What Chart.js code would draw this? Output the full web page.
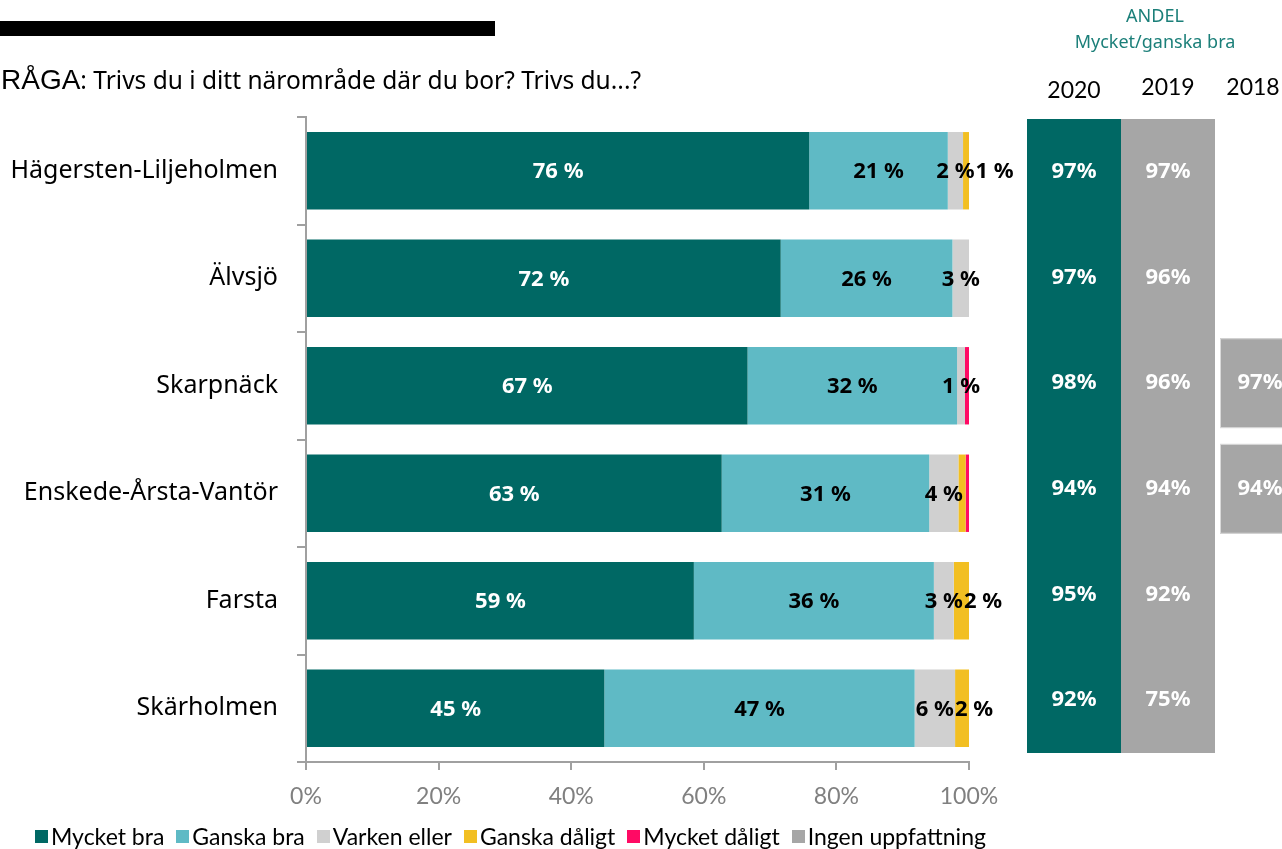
<!DOCTYPE html>
<html>
<head>
<meta charset="utf-8">
<script src="https://cdn.jsdelivr.net/npm/chart.js@4/dist/chart.umd.min.js"></script>
<style>
    body { margin: 0; background: #fff; }
    #wrap { position: relative; width: 1282px; height: 849px; overflow: hidden; }
    #chart { position: absolute; left: 0; top: 0; }
    #bar { position: absolute; left: 0; top: 21px; width: 495px; height: 15px; background: #000; }
    #title { position: absolute; left: 1px; top: 63px; font-family: "Noto Sans", sans-serif; font-size: 24.5px; color: #000; white-space: nowrap; }
    #title .q { font-family: "Liberation Sans", Arial, sans-serif; font-size: 28px; }
    #legend { position: absolute; left: 35px; top: 822px; display: flex; font-family: Lato, sans-serif; font-size: 23px; color: #000; white-space: nowrap; }
    #legend span.item { display: flex; align-items: center; margin-right: 12px; }
    #legend span.box { width: 13px; height: 13px; margin-right: 3px; display: inline-block; }
</style>
</head>
<body>
<div id="wrap">
    <canvas id="chart" width="1282" height="849"></canvas>
    <div id="bar"></div>
    <div id="title"><span class="q">RÅGA</span>: Trivs du i ditt närområde där du bor? Trivs du...?</div>
    <div id="legend"></div>
</div>
<script>
document.addEventListener("DOMContentLoaded", () => {
    const categories = ["Hägersten-Liljeholmen", "Älvsjö", "Skarpnäck", "Enskede-Årsta-Vantör", "Farsta", "Skärholmen"];
    const seriesNames = ["Mycket bra", "Ganska bra", "Varken eller", "Ganska dåligt", "Mycket dåligt", "Ingen uppfattning"];
    const seriesColors = ["#006864", "#5FBAC5", "#D0D0D0", "#F2BF22", "#FF0A64", "#A6A6A6"];

    const mycketBra = [75.9, 71.6, 66.6, 62.7, 58.5, 45.0];
    const ganskaBra = [20.9, 25.9, 31.6, 31.3, 36.2, 46.8];
    const varkenEller = [2.3, 2.5, 1.2, 4.4, 3.0, 6.1];
    const ganskaDaligt = [0.9, 0, 0, 1.1, 2.3, 2.1];
    const mycketDaligt = [0, 0, 0.6, 0.5, 0, 0];
    const ingenUppfattning = [0, 0, 0, 0, 0, 0];

    const xTicks = [0, 20, 40, 60, 80, 100];

    // share Mycket/ganska bra per year (null = no value)
    const years = ["2020", "2019", "2018"];
    const andel2020 = [97, 97, 98, 94, 95, 92];
    const andel2019 = [97, 96, 96, 94, 92, 75];
    const andel2018 = [null, null, 97, 94, null, null];

    // labels that are not printed in the bars
    const hiddenLabels = [["Enskede-Årsta-Vantör", "Ganska dåligt"]];
    const unlabelledSeries = ["Mycket dåligt", "Ingen uppfattning"];

    const seriesValues = [mycketBra, ganskaBra, varkenEller, ganskaDaligt, mycketDaligt, ingenUppfattning];

    // legend
    const legend = document.getElementById("legend");
    seriesNames.forEach((name, i) => {
        const item = document.createElement("span");
        item.className = "item";
        item.innerHTML = '<span class="box" style="background:' + seriesColors[i] + '"></span>' + name;
        legend.appendChild(item);
    });

    // bar value labels, pushed right when they would overlap
    const barLabels = {
        id: "barLabels",
        afterDatasetsDraw(chart) {
            const ctx = chart.ctx;
            ctx.save();
            ctx.font = "bold 22px 'Noto Sans'";
            ctx.textBaseline = "middle";
            ctx.textAlign = "left";
            categories.forEach((cat, row) => {
                let prevRight = -Infinity;
                chart.data.datasets.forEach((ds, di) => {
                    const v = ds.data[row];
                    if (!v) return;
                    if (unlabelledSeries.includes(ds.label)) return;
                    if (hiddenLabels.some(h => h[0] === cat && h[1] === ds.label)) return;
                    const el = chart.getDatasetMeta(di).data[row];
                    const text = Math.round(v) + " %";
                    const w = ctx.measureText(text).width;
                    let left = (el.x + el.base) / 2 - w / 2;
                    if (left < prevRight + 1) left = prevRight + 1;
                    ctx.fillStyle = di === 0 ? "#fff" : "#000";
                    ctx.fillText(text, left, el.y + 1);
                    prevRight = left + w;
                });
            });
            ctx.restore();
        }
    };

    // right hand table with share per year
    const andelPanel = {
        id: "andelPanel",
        afterDraw(chart) {
            const ctx = chart.ctx;
            const y = chart.scales.y;
            const top = y.top + 2;
            const bottom = y.bottom - 9;
            const rowH = (bottom - top) / categories.length;
            const cols = [
                { x: 1027, w: 94, color: "#006864", values: andel2020, full: true, head: 91 },
                { x: 1121, w: 94, color: "#A6A6A6", values: andel2019, full: true, head: 88 },
                { x: 1220, w: 80, color: "#A6A6A6", values: andel2018, full: false, head: 88 }
            ];
            ctx.save();
            ctx.textAlign = "center";
            ctx.textBaseline = "middle";
            ctx.fillStyle = "#1B7F79";
            ctx.font = "18px 'Noto Sans'";
            ctx.fillText("ANDEL", 1155, 17);
            ctx.fillText("Mycket/ganska bra", 1155, 43);
            cols.forEach((c, ci) => {
                ctx.fillStyle = "#000";
                ctx.font = "23px Lato";
                ctx.fillText(years[ci], ci === 2 ? 1253 : c.x + c.w / 2, c.head);
                if (c.full) {
                    ctx.fillStyle = c.color;
                    ctx.fillRect(c.x, top, c.w, bottom - top);
                }
                c.values.forEach((v, r) => {
                    if (v === null) return;
                    const cy = top + rowH * (r + 0.5);
                    if (!c.full) {
                        const h = rowH * 0.85;
                        ctx.fillStyle = c.color;
                        ctx.fillRect(c.x, cy - h / 2, c.w, h);
                        ctx.strokeStyle = "#D9D9D9";
                        ctx.lineWidth = 1;
                        ctx.strokeRect(c.x + 0.5, cy - h / 2 + 0.5, c.w, h - 1);
                    }
                    ctx.fillStyle = "#fff";
                    ctx.font = "bold 22px 'Noto Sans'";
                    ctx.fillText(v + "%", c.x + c.w / 2, cy);
                });
            });
            ctx.restore();
        }
    };

    const ctxMain = document.getElementById("chart").getContext("2d");
    const mainChart = new Chart(ctxMain, {
        type: "bar",
        data: {
            labels: categories,
            datasets: seriesNames.map((name, i) => ({
                label: name,
                data: seriesValues[i],
                backgroundColor: seriesColors[i],
                borderWidth: 0,
                barPercentage: 0.72,
                categoryPercentage: 1
            }))
        },
        options: {
            indexAxis: "y",
            responsive: false,
            animation: false,
            layout: {
                padding: { top: 117, right: 313, left: 0, bottom: 0 }
            },
            scales: {
                x: {
                    stacked: true,
                    min: 0,
                    max: 100,
                    afterBuildTicks: (scale) => { scale.ticks = xTicks.map(v => ({ value: v })); },
                    afterFit: (scale) => { scale.height = 87; },
                    grid: { drawOnChartArea: false, tickLength: 8, color: "#A0A0A0", lineWidth: 2 },
                    border: { display: true, color: "#A0A0A0", width: 2 },
                    ticks: {
                        padding: 13,
                        color: "#808080",
                        font: { family: "Lato", size: 23 },
                        callback: (v) => v + "%"
                    }
                },
                y: {
                    stacked: true,
                    afterFit: (scale) => { scale.width = 306; },
                    grid: { drawOnChartArea: false, offset: true, tickLength: 9, color: "#A0A0A0", lineWidth: 2 },
                    border: { display: true, color: "#A0A0A0", width: 2 },
                    ticks: {
                        padding: 19,
                        color: "#000",
                        font: { family: "Noto Sans", size: 25 }
                    }
                }
            },
            plugins: {
                legend: { display: false },
                tooltip: { enabled: false }
            }
        },
        plugins: [barLabels, andelPanel]
    });
});
</script>
</body>
</html>
